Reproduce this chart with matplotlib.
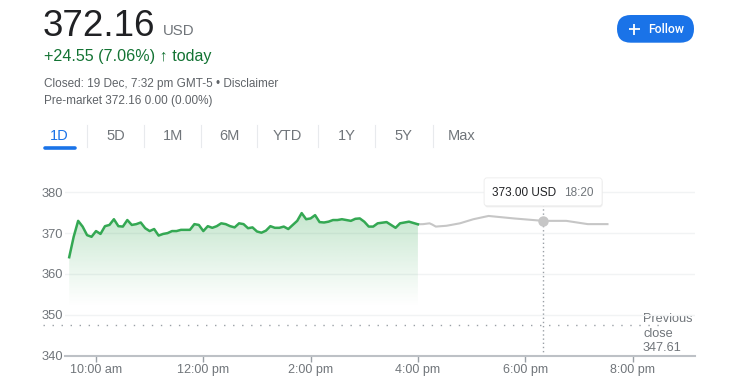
import matplotlib
matplotlib.use("Agg")
import matplotlib.pyplot as plt
import numpy as np
from matplotlib.patches import FancyBboxPatch

# ---------------- data ----------------
# minutes since midnight (regular session)
session_minutes = [570, 575, 580, 585, 590, 595, 600, 605, 610, 615, 620, 625, 630, 635,
                   640, 645, 650, 655, 660, 665, 670, 675, 680, 685, 690, 695, 705, 710,
                   715, 720, 725, 730, 735, 740, 745, 750, 755, 760, 765, 770, 775, 780,
                   785, 790, 795, 800, 805, 810, 815, 820, 825, 830, 835, 840, 845, 850,
                   855, 860, 865, 870, 875, 885, 890, 895, 900, 905, 910, 915, 925, 935,
                   940, 950, 960]
session_prices = [364.1, 369.1, 373.0, 371.6, 369.5, 369.1, 370.5, 369.8, 371.7, 372.0,
                  373.4, 371.7, 371.6, 373.2, 372.0, 372.2, 372.6, 371.2, 370.5, 371.0,
                  369.4, 369.8, 370.0, 370.5, 370.5, 370.8, 370.8, 372.2, 372.0, 370.5,
                  371.7, 371.3, 371.7, 372.4, 372.2, 371.7, 371.4, 372.4, 372.2, 371.2,
                  371.4, 370.4, 370.1, 370.6, 371.7, 371.3, 371.3, 371.6, 371.0, 372.0,
                  373.0, 374.9, 373.4, 373.6, 374.4, 372.7, 372.6, 372.8, 373.2, 373.2,
                  373.4, 373.0, 373.5, 373.6, 372.8, 371.6, 371.6, 372.4, 372.7, 371.3,
                  372.4, 372.8, 372.16]
after_minutes = [960, 966, 973, 976, 980, 992, 1007, 1022, 1039, 1067, 1100, 1126, 1150, 1172]
after_prices = [372.16, 372.2, 372.4, 372.1, 371.6, 371.8, 372.4, 373.4, 374.2, 373.6,
                373.0, 373.0, 372.2, 372.2]

previous_close = 347.61
hover_minute = 1100
hover_price = 373.00

y_ticks = [340, 350, 360, 370, 380]
x_tick_minutes = [600, 720, 840, 960, 1080, 1200]
x_tick_labels = ["10:00 am", "12:00 pm", "2:00 pm", "4:00 pm", "6:00 pm", "8:00 pm"]
tabs = ["1D", "5D", "1M", "6M", "YTD", "1Y", "5Y", "Max"]

# ---------------- styling ----------------
FONT = ["Liberation Sans", "DejaVu Sans"]
plt.rcParams["font.family"] = FONT
GREY = "#70757a"
DARK = "#202124"
GREEN_TXT = "#137333"
GREEN_LINE = "#34a853"
BLUE = "#1a73e8"

W, H = 745, 390
fig = plt.figure(figsize=(W / 100, H / 100), dpi=100)
fig.patch.set_facecolor("white")

# overlay in pixel coordinates (y downward)
ov = fig.add_axes([0, 0, 1, 1])
ov.set_xlim(0, W)
ov.set_ylim(H, 0)
ov.axis("off")

# ---------------- header ----------------
ov.text(43, 35.7, "372.16", fontsize=26.5, color=DARK, va="baseline", ha="left")
ov.text(163, 35.2, "USD", fontsize=10.8, color=GREY, va="baseline", ha="left")
ov.text(43.5, 61.2, "+24.55 (7.06%) \u2191 today", fontsize=11.6, color=GREEN_TXT,
        va="baseline", ha="left")
ov.text(43.5, 87, "Closed: 19 Dec, 7:32 pm GMT-5 \u2022 Disclaimer", fontsize=8.5,
        color="#5f6368", va="baseline", ha="left")
ov.text(43.5, 104.3, "Pre-market 372.16 0.00 (0.00%)", fontsize=8.5,
        color="#5f6368", va="baseline", ha="left")

# Follow button
ov.add_patch(FancyBboxPatch((617, 15), 77, 27.7,
                            boxstyle="round,pad=0,rounding_size=13.8",
                            facecolor=BLUE, edgecolor="none"))
ov.plot([628.5, 639.5], [29, 29], color="white", lw=1.3, solid_capstyle="butt")
ov.plot([634, 634], [23.5, 34.5], color="white", lw=1.3, solid_capstyle="butt")
ov.text(648, 33.2, "Follow", fontsize=8.8, color="white", va="baseline", ha="left",
        family=["Roboto", "DejaVu Sans"], weight="medium")

# tabs
tab_centers = [59, 116, 173, 229, 287, 347, 403, 462]
separators = [87, 144, 201, 257, 318, 375, 433]
for name, cx in zip(tabs, tab_centers):
    ov.text(cx, 140, name, fontsize=10.5, color=BLUE if name == "1D" else GREY,
            ha="center", va="baseline")
for sx in separators:
    ov.plot([sx, sx], [125, 147], color="#e8eaed", lw=0.8)
ov.plot([44.5, 74.5], [147.5, 147.5], color=BLUE, lw=2.6, solid_capstyle="round")

# ---------------- chart ----------------
px_top, px_bot = 180.0, 355.7
ax = fig.add_axes([65 / W, (H - px_bot) / H, 630 / W, (px_bot - px_top) / H])
ax.set_facecolor("none")
ax.set_xlim(565.3, 1269.9)
ax.set_ylim(340, 383)

for s in ["top", "right", "left"]:
    ax.spines[s].set_visible(False)
ax.spines["bottom"].set_color("#bdc1c6")
ax.spines["bottom"].set_linewidth(1.5)

for yv in y_ticks[1:]:
    ax.axhline(yv, color="#f1f3f4", lw=1, zorder=0)

ax.set_yticks(y_ticks)
ax.set_yticklabels([str(v) for v in y_ticks])
ax.tick_params(axis="y", length=0, pad=1.5, labelsize=9.3, labelcolor=GREY)
ax.set_xticks(x_tick_minutes)
ax.set_xticklabels(x_tick_labels)
ax.tick_params(axis="x", direction="out", length=4.5, width=1, color="#9aa0a6",
               pad=1.5, labelsize=9, labelcolor=GREY)

# gradient fill under the regular-session line
poly = ax.fill_between(session_minutes, session_prices, 340, facecolor="none",
                       edgecolor="none")
grad_h = 200
img = np.zeros((grad_h, 2, 4))
img[..., 0] = 0x34 / 255
img[..., 1] = 0xa8 / 255
img[..., 2] = 0x53 / 255
yy = np.linspace(340, 376, grad_h)
a = np.clip((yy - 352) / (376 - 352), 0, 1) ** 1.1 * 0.30
img[..., 3] = a[:, None]
im = ax.imshow(img, extent=[session_minutes[0], session_minutes[-1], 340, 376],
               origin="lower", aspect="auto", zorder=1, interpolation="bilinear")
im.set_clip_path(poly.get_paths()[0], transform=ax.transData)

ax.plot(session_minutes, session_prices, color=GREEN_LINE, lw=1.8, zorder=3,
        solid_joinstyle="round")
ax.plot(after_minutes, after_prices, color="#c6c6c6", lw=1.5, zorder=2,
        solid_joinstyle="round")

# previous close dotted line
ax.plot([540.7, 1230], [previous_close, previous_close], color="#9aa0a6", lw=1,
        linestyle=(0, (1, 5.5)), clip_on=False, zorder=2)

# hover crosshair
ax.plot([hover_minute, hover_minute], [340, 376.9], color="#9aa0a6", lw=1,
        linestyle=(0, (1, 2)), zorder=2, clip_on=False)
ax.plot([hover_minute], [hover_price], marker="o", markersize=6.5,
        color="#c6c6c6", zorder=4)

# tooltip (positioned over the hover point)
hx, hy = ax.transData.transform((hover_minute, 380.1))
hx_px = hx
hy_px = H - hy
bw, bh = 118, 28
ov2 = fig.add_axes([0, 0, 1, 1])
ov2.set_xlim(0, W)
ov2.set_ylim(H, 0)
ov2.axis("off")
ov2.add_patch(FancyBboxPatch((hx_px - bw / 2 + 0.5, hy_px - bh / 2 + 1.5), bw, bh,
                             boxstyle="round,pad=0,rounding_size=3",
                             facecolor="#e8e8e8", edgecolor="none", alpha=0.7))
ov2.add_patch(FancyBboxPatch((hx_px - bw / 2, hy_px - bh / 2), bw, bh,
                             boxstyle="round,pad=0,rounding_size=3",
                             facecolor="white", edgecolor="#ececec", lw=0.6))
ov2.text(hx_px - bw / 2 + 8, hy_px + 4, f"{hover_price:.2f} USD", fontsize=8.5,
         color=DARK, va="baseline", ha="left")
ov2.text(hx_px - bw / 2 + 80, hy_px + 4, "18:20", fontsize=8.5,
         color=GREY, va="baseline", ha="left")

# previous close label
ov.text(643, 333.7, f"Previous\nclose\n{previous_close:.2f}", fontsize=9.2,
        color=GREY, va="center", ha="left", linespacing=1.25)

fig.savefig("out.png", dpi=100, facecolor="white")
